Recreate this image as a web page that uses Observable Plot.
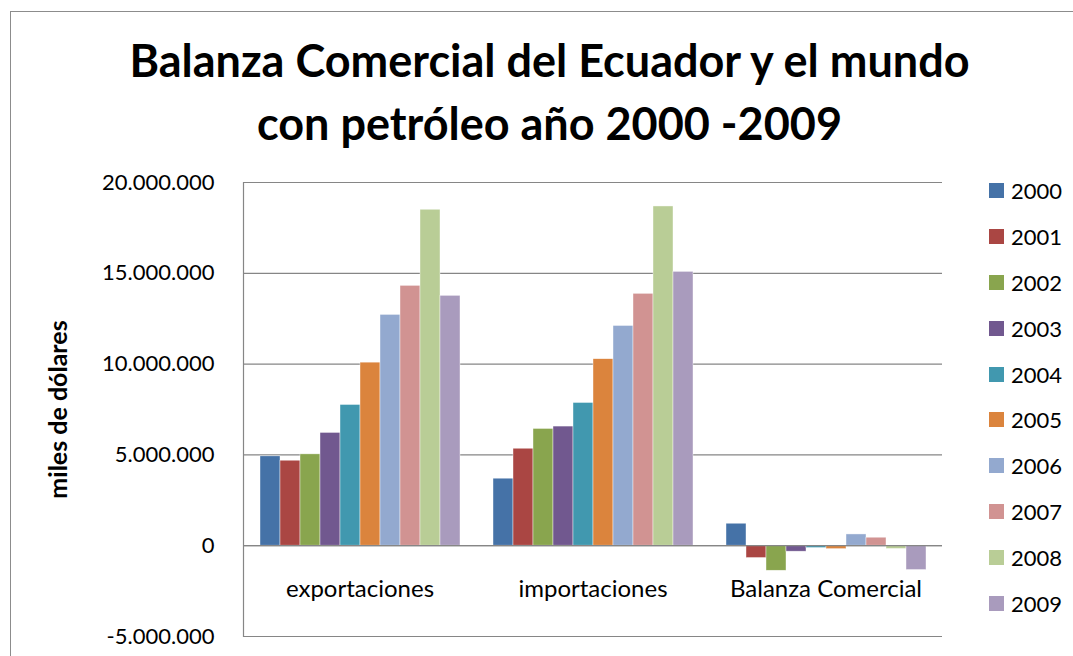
<!DOCTYPE html>
<html>
<head>
<meta charset="utf-8">
<script src="https://cdn.jsdelivr.net/npm/d3@7"></script>
<script src="https://cdn.jsdelivr.net/npm/@observablehq/plot@0.6"></script>
<style>
  html, body { margin: 0; padding: 0; background: #fff; }
  #wrap { position: relative; width: 1073px; height: 656px; overflow: hidden; font-family: Lato, sans-serif; }
  #border { position: absolute; left: 10px; top: 11px; width: 1200px; height: 800px; border: 1.5px solid #8c8c8c; box-sizing: border-box; }
  #title { position: absolute; left: 0; top: 29px; width: 1099px; text-align: center; font-weight: bold; font-size: 45px; line-height: 63px; color: #000; }
  #chart { position: absolute; left: 0; top: 160px; }
  #legend { position: absolute; left: 989px; top: 168px; }
  .row { display: flex; align-items: center; height: 45.8px; font-size: 22px; color: #000; }
  .sw { width: 15px; height: 15px; margin-right: 7px; }
</style>
</head>
<body>
<div id="wrap">
  <div id="border"></div>
  <div id="title">Balanza Comercial del Ecuador y el mundo<br>con petróleo año 2000 -2009</div>
  <div id="chart"></div>
  <div id="legend"></div>
</div>
<script>
const categories = ["exportaciones", "importaciones", "Balanza Comercial"];
const years = ["2000", "2001", "2002", "2003", "2004", "2005", "2006", "2007", "2008", "2009"];
const exportaciones = [4920000, 4680000, 5030000, 6210000, 7750000, 10080000, 12710000, 14310000, 18500000, 13760000];
const importaciones = [3690000, 5340000, 6430000, 6560000, 7860000, 10270000, 12100000, 13870000, 18680000, 15080000];
const balanza = [1210000, -680000, -1380000, -330000, -130000, -190000, 620000, 440000, -180000, -1340000];
const yTicks = [-5000000, 0, 5000000, 10000000, 15000000, 20000000];
const colors = ["#4572A7", "#AA4643", "#89A54E", "#71588F", "#4198AF", "#DB843D", "#93A9CF", "#D19392", "#B9CD96", "#A99BBD"];

const series = [exportaciones, importaciones, balanza];
const rows = [];
categories.forEach((c, ci) => years.forEach((y, yi) => rows.push({categoria: c, anio: y, valor: series[ci][yi]})));

const fmt = d3.formatLocale({decimal: ",", thousands: ".", grouping: [3], currency: ["$", ""], minus: "-"}).format(",");

const chart = Plot.plot({
  width: 1073,
  height: 496,
  marginLeft: 242,
  marginRight: 130,
  marginTop: 22,
  marginBottom: 20,
  style: {fontFamily: "Lato, sans-serif", color: "#000", background: "transparent"},
  fx: {domain: categories, padding: 0},
  x: {domain: years, paddingInner: 0, paddingOuter: 0.74, axis: null},
  y: {domain: [-5000000, 20000000]},
  color: {domain: years, range: colors},
  marks: [
    Plot.gridY(yTicks, {stroke: "#868686", strokeOpacity: 1, strokeWidth: 1.2}),
    Plot.frame({anchor: "left", facetAnchor: "left", stroke: "#868686", strokeWidth: 1.2}),
    Plot.barY(rows, {fx: "categoria", x: "anio", y: "valor", fill: "anio", stroke: "#fff", strokeWidth: 0.6, strokeOpacity: 0.7}),
    Plot.ruleY([0], {stroke: "#868686", strokeWidth: 1.2}),
    Plot.axisY(yTicks, {tickFormat: fmt, tickSize: 0, tickPadding: 29, fontSize: 22, label: null}),
    Plot.axisY([], {label: "miles de dólares", labelArrow: "none", labelAnchor: "center", labelOffset: 194, fontSize: 25, fontWeight: "bold"}),
    Plot.axisFx({anchor: "bottom", tickSize: 0, fontSize: 24, dy: -66, label: null})
  ]
});
document.getElementById("chart").appendChild(chart);

const legend = document.getElementById("legend");
years.forEach((y, i) => {
  const r = document.createElement("div");
  r.className = "row";
  const s = document.createElement("div");
  s.className = "sw";
  s.style.background = colors[i];
  const t = document.createElement("span");
  t.textContent = y;
  r.appendChild(s);
  r.appendChild(t);
  legend.appendChild(r);
});
</script>
</body>
</html>
